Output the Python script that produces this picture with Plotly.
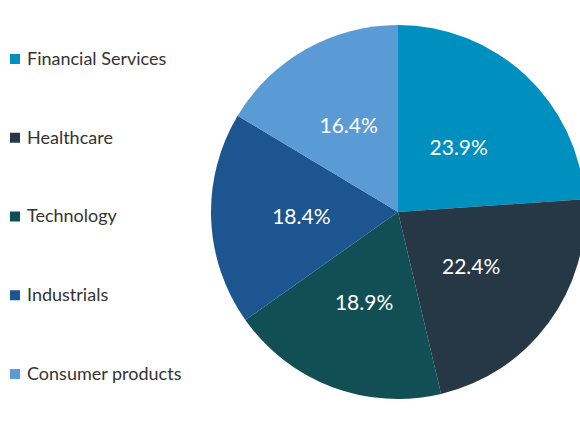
import plotly.graph_objects as go

sectors = ["Financial Services", "Healthcare", "Technology", "Industrials", "Consumer products"]
shares = [23.9, 22.4, 18.9, 18.4, 16.4]
colors = ["#0090c0", "#263746", "#124f54", "#1c5590", "#5b9bd5"]

# figure is a bit wider than the window so the pie runs off the right edge like the original
W, H = 592, 435
cx, cy, r = 398, 212, 187

def dom(rad):
    return dict(x=[(cx - rad) / W, (cx + rad) / W],
                y=[1 - (cy + rad) / H, 1 - (cy - rad) / H])

fig = go.Figure()
fig.add_trace(go.Pie(
    labels=sectors,
    values=shares,
    marker=dict(colors=colors, line=dict(width=0)),
    sort=False,
    direction="clockwise",
    rotation=0,
    textinfo="none",
    hoverinfo="label+percent",
    showlegend=False,
    domain=dom(r),
))
# smaller transparent copy only carries the percentage labels, so they sit nearer the middle
fig.add_trace(go.Pie(
    labels=sectors,
    values=shares,
    marker=dict(colors=["rgba(0,0,0,0)"] * len(sectors), line=dict(width=0)),
    sort=False,
    direction="clockwise",
    rotation=0,
    texttemplate="%{value:.1f}%",
    textposition="inside",
    insidetextorientation="horizontal",
    insidetextfont=dict(color="white", size=21, family="Lato"),
    hoverinfo="skip",
    showlegend=False,
    domain=dom(r * 0.8),
))

# legend drawn by hand so the entries can be spread out like the original
for i, (name, col) in enumerate(zip(sectors, colors)):
    yc = 1 - (58 + i * 78.75) / H
    fig.add_shape(type="rect", xref="paper", yref="paper",
                  x0=10 / W, x1=20 / W, y0=yc - 6 / H, y1=yc + 4 / H,
                  fillcolor=col, line=dict(width=0))
    fig.add_annotation(x=25 / W, y=yc, xref="paper", yref="paper",
                       text=name, showarrow=False, xanchor="left", yanchor="middle",
                       font=dict(family="Lato", size=18, color="#333333"))

fig.update_layout(
    width=W, height=H,
    margin=dict(l=0, r=0, t=0, b=0),
    paper_bgcolor="white",
    plot_bgcolor="white",
)

fig.write_html("out.html", config={"displayModeBar": False},
               post_script="document.body.style.margin='0';document.body.style.overflow='hidden';")
